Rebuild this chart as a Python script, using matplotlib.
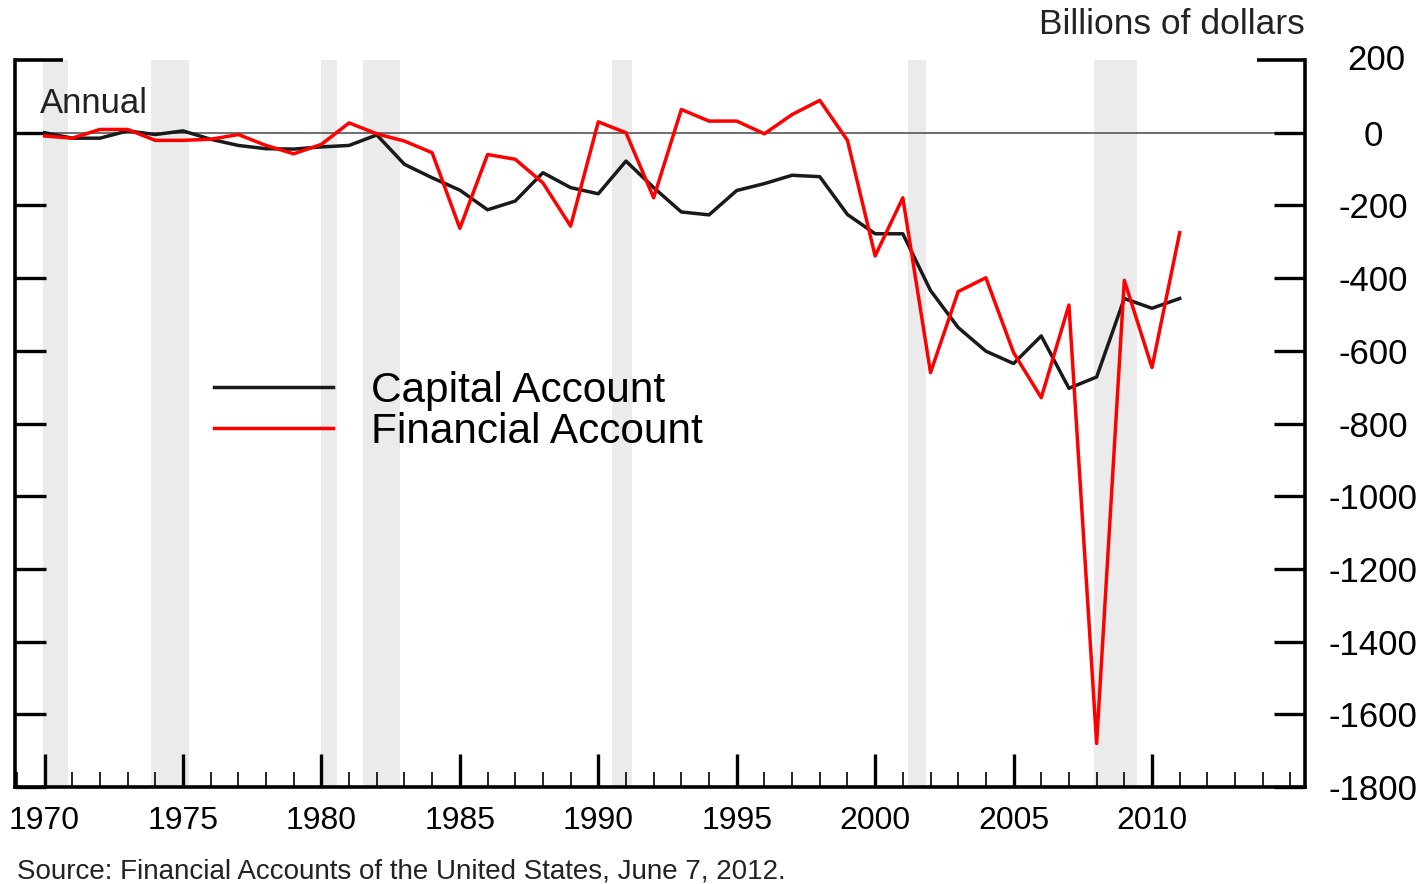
import numpy as np
import matplotlib
matplotlib.use("Agg")
import matplotlib.pyplot as plt
from matplotlib.ticker import MultipleLocator

plt.rcParams['font.family'] = ['Liberation Sans', 'DejaVu Sans']
plt.rcParams['axes.unicode_minus'] = False

years = list(range(1970, 2012))
capital = [0, -15, -15, 5, -5, 5, -18, -35, -44, -45,
           -39, -35, -6, -87, -124, -158, -212, -188, -110, -151,
           -168, -78, -151, -218, -226, -159, -140, -117, -121, -225,
           -278, -278, -434, -536, -601, -635, -559, -703, -672, -456,
           -483, -456]
financial = [-9, -15, 9, 9, -21, -21, -18, -5, -35, -58,
             -32, 27, -3, -23, -55, -263, -60, -73, -138, -257,
             30, 0, -179, 64, 32, 32, -3, 50, 89, -21,
             -339, -179, -660, -437, -399, -605, -729, -474, -1680, -406,
             -646, -275]

# recession bands (start, end) in fractional years
recessions = [(1969.95, 1970.85), (1973.85, 1975.2), (1980.0, 1980.55),
              (1981.5, 1982.85), (1990.5, 1991.2), (2001.2, 2001.85),
              (2007.9, 2009.45)]

fig = plt.figure(figsize=(14.24, 8.84), dpi=100)
ax = fig.add_axes([0.0105, 0.1097, 0.906, 0.8224])

for a, b in recessions:
    ax.axvspan(a, b, color='#ebebeb', lw=0, zorder=0)

ax.axhline(0, color='#555555', lw=1.2, zorder=1)
l1, = ax.plot(years, capital, color='#1a1a1a', lw=2.5, zorder=3)
l2, = ax.plot(years, financial, color='#ff0000', lw=2.5, zorder=3)

ax.set_xlim(1968.93, 2015.53)
ax.set_ylim(-1800, 200)

ax.spines['top'].set_visible(False)
for s in ['left', 'right', 'bottom']:
    ax.spines[s].set_linewidth(2.6)

ax.xaxis.set_minor_locator(MultipleLocator(1))
ax.set_xticks(range(1970, 2015, 5))
ax.set_xticklabels([str(y) for y in range(1970, 2015, 5)])
ax.tick_params(axis='x', which='major', direction='in', length=24, width=2.4,
               labelsize=23, pad=14)
ax.tick_params(axis='x', which='minor', direction='in', length=11, width=1.2)

ax.set_yticks(range(-1800, 1, 200))
ax.yaxis.tick_right()
ax.tick_params(axis='y', which='both', direction='in', length=22, width=2.4,
               left=True, right=True, labelleft=False, labelright=True,
               labelsize=25, pad=49)
for lab in ax.get_yticklabels():
    lab.set_horizontalalignment('center')

# top corner stubs at 200
ax.plot([0, 0.037], [1, 1], transform=ax.transAxes, color='black', lw=2.6,
        clip_on=False, solid_capstyle='butt')
ax.plot([0.963, 1], [1, 1], transform=ax.transAxes, color='black', lw=2.6,
        clip_on=False, solid_capstyle='butt')
fig.text(0.9164 + 0.05, 0.9321, '200', fontsize=25, ha='center', va='center')

ax.text(0.019, 0.94, 'Annual', transform=ax.transAxes, fontsize=25,
        ha='left', va='center', color='#222222')
fig.text(0.9164, 0.972, 'Billions of dollars', fontsize=25.5, ha='right',
         va='center', color='#222222')
fig.text(0.012, 0.014, 'Source: Financial Accounts of the United States, June 7, 2012.',
         fontsize=20, ha='left', va='center', color='#222222',
         transform=fig.transFigure)

ax.legend([l1, l2], ['Capital Account', 'Financial Account'],
          loc='upper left', bbox_to_anchor=(0.125, 0.625), frameon=False,
          fontsize=30.5, handlelength=2.8, handletextpad=0.9, labelspacing=0.02)

fig.savefig('out.png', dpi=100)
